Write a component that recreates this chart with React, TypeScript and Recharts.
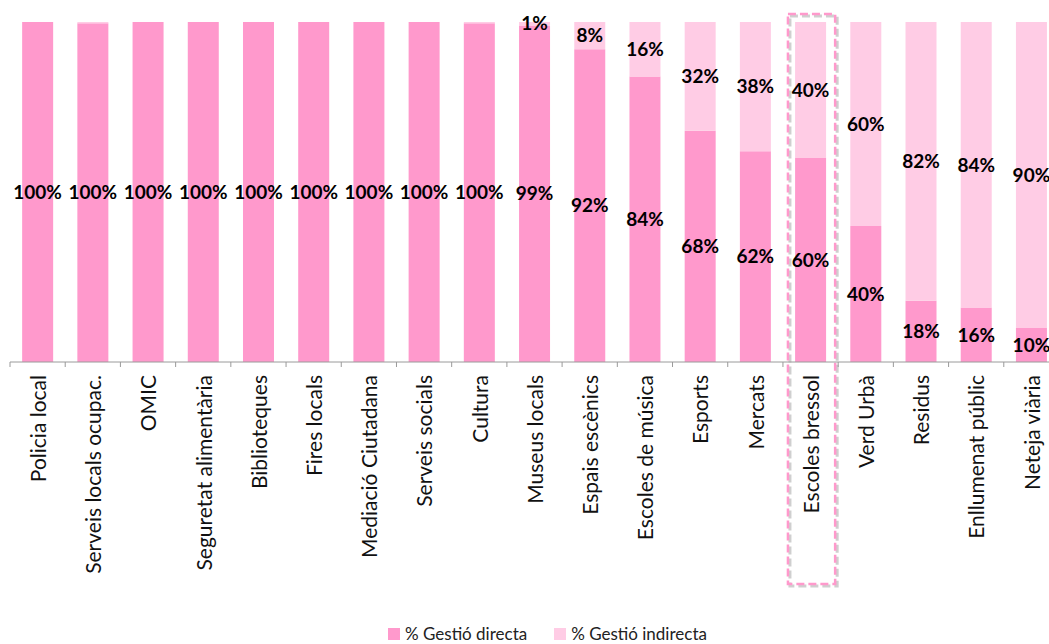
import { BarChart, Bar, XAxis, YAxis, LabelList, Legend, ReferenceArea } from 'recharts'

const categories = [
  'Policia local',
  'Serveis locals ocupac.',
  'OMIC',
  'Seguretat alimentària',
  'Biblioteques',
  'Fires locals',
  'Mediació Ciutadana',
  'Serveis socials',
  'Cultura',
  'Museus locals',
  'Espais escènics',
  'Escoles de música',
  'Esports',
  'Mercats',
  'Escoles bressol',
  'Verd Urbà',
  'Residus',
  'Enllumenat públic',
  'Neteja viària',
]
const directa = [100, 99.6, 100, 100, 100, 100, 100, 100, 99.6, 99, 92, 84, 68, 62, 60, 40, 18, 16, 10]
const indirecta = [0, 0.4, 0, 0, 0, 0, 0, 0, 0.4, 1, 8, 16, 32, 38, 40, 60, 82, 84, 90]
const seriesNames = ['% Gestió directa', '% Gestió indirecta']
const seriesColors = ['#FF99CC', '#FFCCE5']
const highlighted = 'Escoles bressol'

const data = categories.map((name, i) => ({
  name,
  directa: directa[i],
  indirecta: indirecta[i],
}))

const FONT = 'Lato, "Open Sans", sans-serif'

function pct(v: any) {
  const n = Number(v)
  if (n < 0.5) return ''
  return `${Math.round(n)}%`
}

function CatTick({ x, y, payload }: any) {
  const edge = x - (payload.offset || 0)
  return (
    <g>
      <line x1={edge} x2={edge} y1={y} y2={y + 5} stroke="#9a9a9a" strokeWidth={1} />
      <text
        transform={`translate(${x + 3},${y + 13}) rotate(-90)`}
        textAnchor="end"
        dominantBaseline="middle"
        fontFamily={FONT}
        fontSize={21}
        fill="#111"
      >
        {payload.value}
      </text>
    </g>
  )
}

function HighlightBox({ x, y, width, height }: any) {
  const bx = x + 5
  const bw = width - 8
  const by = y - 8
  const bh = height + 230
  return (
    <g>
      <rect x={bx + 2} y={by + 2} width={bw} height={bh} fill="none" stroke="#cfcfcf" strokeWidth={3} strokeDasharray="8 4" />
      <rect x={bx} y={by} width={bw} height={bh} fill="none" stroke="#FF99CC" strokeWidth={2.5} strokeDasharray="8 4" />
    </g>
  )
}

function LegendBox() {
  return (
    <div style={{ display: 'flex', alignItems: 'center', paddingLeft: 378, fontFamily: FONT, fontSize: 17, lineHeight: '18px', color: '#222' }}>
      {seriesNames.map((n, i) => (
        <div key={n} style={{ display: 'flex', alignItems: 'center', marginRight: 27 }}>
          <div style={{ width: 12, height: 12, background: seriesColors[i], marginRight: 5 }} />
          <span>{n}</span>
        </div>
      ))}
    </div>
  )
}

export default function App() {
  return (
    <div style={{ position: 'absolute', left: 0, top: 0, width: 1049, height: 644, overflow: 'hidden', background: '#fff' }}>
      <BarChart
        width={1059}
        height={644}
        data={data}
        margin={{ top: 22, right: 0, left: 10, bottom: 0 }}
        barCategoryGap="22%"
      >
        <XAxis
          dataKey="name"
          interval={0}
          tickLine={false}
          tickSize={0}
          tickMargin={0}
          height={264}
          axisLine={{ stroke: '#9a9a9a' }}
          tick={<CatTick />}
        />
        <YAxis hide domain={[0, 100]} />
        <ReferenceArea x1={highlighted} x2={highlighted} y1={0} y2={100} shape={<HighlightBox />} />
        <Bar dataKey="directa" name={seriesNames[0]} stackId="a" fill={seriesColors[0]} isAnimationActive={false}>
          <LabelList
            dataKey="directa"
            position="center"
            formatter={pct}
            style={{ fontFamily: FONT, fontSize: 19, fontWeight: 700, fill: '#000' }}
          />
        </Bar>
        <Bar dataKey="indirecta" name={seriesNames[1]} stackId="a" fill={seriesColors[1]} isAnimationActive={false}>
          <LabelList
            dataKey="indirecta"
            position="center"
            formatter={pct}
            style={{ fontFamily: FONT, fontSize: 19, fontWeight: 700, fill: '#000' }}
          />
        </Bar>
        <Legend verticalAlign="bottom" content={<LegendBox />} wrapperStyle={{ height: 18, bottom: 1 }} />
      </BarChart>
    </div>
  )
}
